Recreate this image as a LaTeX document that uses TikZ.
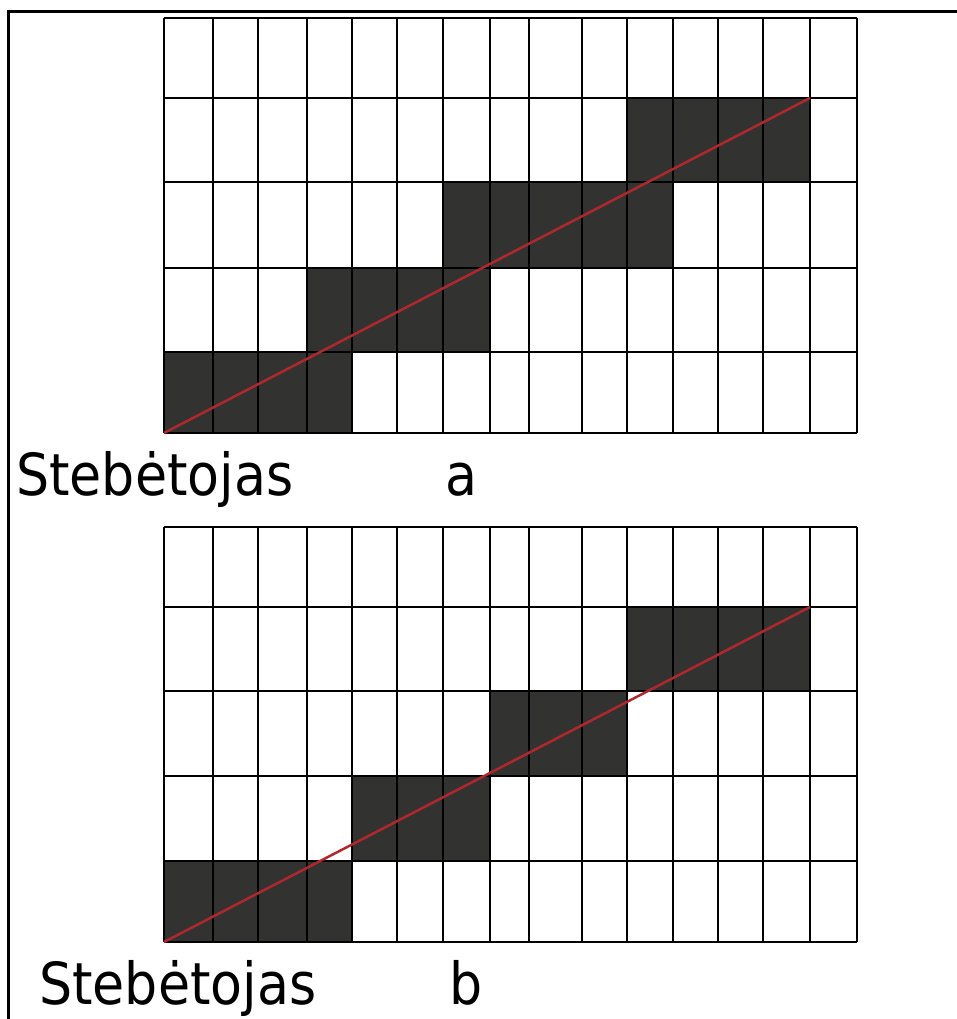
\documentclass[tikz,border=0pt]{standalone}
\usepackage{fontspec}
\newfontfamily\labfont{DejaVu Sans Condensed}
\definecolor{cellfill}{RGB}{50,50,48}
\definecolor{redline}{RGB}{175,40,45}
\tikzset{
  cell/.style={fill=cellfill, draw=none},
  gridline/.style={draw=black, line width=1.8pt},
  frameline/.style={draw=black, line width=3pt},
  sightline/.style={draw=redline, line width=2.5pt},
  lab/.style={inner sep=0pt, anchor=base west, font=\labfont\fontsize{58}{60}\selectfont}
}
\begin{document}
\begin{tikzpicture}[x=1pt,y=-1pt]
\useasboundingbox (0,0) rectangle (957,1019);
% frame
\draw[frameline] (8,1019) -- (8,12) -- (957,12);
% ---------- grid a ----------
\fill[cell] (164,352) rectangle (352,433);
\fill[cell] (307,268) rectangle (490,352);
\fill[cell] (443,182) rectangle (673,268);
\fill[cell] (627,98) rectangle (810,182);
\foreach \x in {164,213,258,307,352,397,443,490,529,582,627,673,718,763,810,857}
  \draw[gridline] (\x,18) -- (\x,433);
\foreach \y in {18,98,182,268,352,433}
  \draw[gridline] (164,\y) -- (857,\y);
\coordinate (a0) at (164,433);
\coordinate (a1) at (810,98);
\draw[sightline] (a0) -- (a1);
\node[lab] (obsA) at (16,495) {Stebėtojas};
\node[lab] (labA) at (445,495) {a};
% ---------- grid b ----------
\fill[cell] (164,861) rectangle (352,942);
\fill[cell] (352,776) rectangle (490,861);
\fill[cell] (490,691) rectangle (627,776);
\fill[cell] (627,607) rectangle (810,691);
\foreach \x in {164,213,258,307,352,397,443,490,529,582,627,673,718,763,810,857}
  \draw[gridline] (\x,527) -- (\x,942);
\foreach \y in {527,607,691,776,861,942}
  \draw[gridline] (164,\y) -- (857,\y);
\coordinate (b0) at (164,942);
\coordinate (b1) at (810,607);
\draw[sightline] (b0) -- (b1);
\node[lab] (obsB) at (39,1004) {Stebėtojas};
\node[lab] (labB) at (449,1004) {b};
\end{tikzpicture}
\end{document}
